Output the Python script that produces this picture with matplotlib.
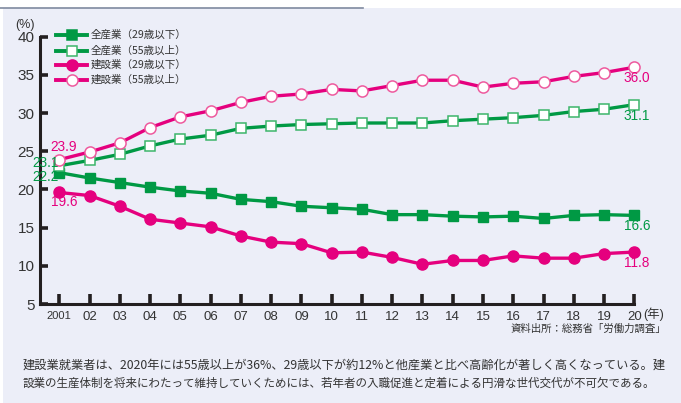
import matplotlib
matplotlib.use("Agg")
import matplotlib.pyplot as plt
from matplotlib.patches import Rectangle
from matplotlib.lines import Line2D

# ── data ─────────────────────────────────────
years = list(range(2001, 2021))
year_labels = ["2001"] + [f"{y % 100:02d}" for y in range(2002, 2021)]

all_u29 = [22.2, 21.5, 20.9, 20.3, 19.8, 19.5, 18.7, 18.4, 17.8, 17.6,
           17.4, 16.7, 16.7, 16.5, 16.4, 16.5, 16.2, 16.6, 16.7, 16.6]
all_o55 = [23.1, 23.8, 24.6, 25.7, 26.6, 27.1, 28.0, 28.3, 28.5, 28.6,
           28.7, 28.7, 28.7, 29.0, 29.2, 29.4, 29.7, 30.2, 30.5, 31.1]
con_u29 = [19.6, 19.2, 17.8, 16.1, 15.6, 15.1, 13.9, 13.1, 12.9, 11.7,
           11.8, 11.1, 10.2, 10.7, 10.7, 11.3, 11.0, 11.0, 11.6, 11.8]
con_o55 = [23.9, 24.9, 26.1, 28.1, 29.5, 30.3, 31.4, 32.2, 32.5, 33.1,
           32.9, 33.6, 34.3, 34.3, 33.4, 33.9, 34.1, 34.8, 35.3, 36.0]

legend_labels = ["全産業（29歳以下）", "全産業（55歳以上）",
                 "建設業（29歳以下）", "建設業（55歳以上）"]
yticks = [5, 10, 15, 20, 25, 30, 35, 40]

GREEN = "#009944"
GREEN_EDGE = "#3cb56a"
PINK = "#E5007E"
PINK_EDGE = "#ee5a9e"
BG = "#ECEEF8"
DARK = "#231F20"
JP = ["Noto Sans CJK JP", "DejaVu Sans"]
NUM = ["Liberation Sans", "Noto Sans CJK JP", "DejaVu Sans"]

W, H = 681, 403
fig = plt.figure(figsize=(W / 100, H / 100), dpi=100)
fig.patch.set_facecolor("white")
fig.patches.append(Rectangle((3 / W, 0), 1, 1 - 8 / H, transform=fig.transFigure,
                             facecolor=BG, edgecolor="none", zorder=-5))
fig.add_artist(Line2D([0, 363 / W], [1 - 7.5 / H] * 2, color="#7f8aa0", lw=1.2))

# axes placement (pixel coords measured from reference)
x0, x1 = 40, 634.3
y_top, y_bot = 36.7, 304
step = (x1 - 59.3) / 19
ax = fig.add_axes([x0 / W, 1 - y_bot / H, (x1 - x0) / W, (y_bot - y_top) / H])
ax.set_zorder(2)
ax.set_facecolor("none")
ax.set_xlim(2001 - (59.3 - x0) / step, 2020)
ax.set_ylim(5, 40)

for s in ["top", "right"]:
    ax.spines[s].set_visible(False)
for s in ["left", "bottom"]:
    ax.spines[s].set_linewidth(2.2)
    ax.spines[s].set_color(DARK)

ax.set_yticks(yticks)
ax.set_yticklabels([str(v) for v in yticks], family=NUM, fontsize=11, color="#333")
ax.set_xticks(years)
ax.set_xticklabels(year_labels, family=NUM, fontsize=9.5, color="#333")
ax.get_xticklabels()[0].set_fontsize(8)
ax.tick_params(axis="y", direction="in", length=6, width=2.6, color=DARK, pad=4)
ax.tick_params(axis="x", direction="in", length=7, width=2.6, color=DARK, pad=5)

# ── series ───────────────────────────────────
kw = dict(lw=2.4, clip_on=False, zorder=3)
ax.plot(years, all_u29, color=GREEN, marker="s", ms=7, mfc=GREEN, mec=GREEN, **kw)
ax.plot(years, all_o55, color=GREEN, marker="s", ms=7, mfc="white", mec=GREEN_EDGE, mew=1.1, **kw)
ax.plot(years, con_u29, color=PINK, marker="o", ms=8, mfc=PINK, mec=PINK, **kw)
ax.plot(years, con_o55, color=PINK, marker="o", ms=8, mfc="white", mec=PINK_EDGE, mew=1.1, **kw)

# ── legend (drawn by hand, like the original) ─
leg_y = [35, 50.5, 64.5, 80]
styles = [(GREEN, "s", GREEN, GREEN), (GREEN, "s", "white", GREEN_EDGE),
          (PINK, "o", PINK, PINK), (PINK, "o", "white", PINK_EDGE)]
for yy, lab, (c, m, fc, ec) in zip(leg_y, legend_labels, styles):
    fy = 1 - yy / H
    fig.add_artist(Line2D([56 / W, 87 / W], [fy, fy], color=c, lw=2.8))
    fig.add_artist(Line2D([71.5 / W], [fy], color=c, marker=m,
                          ms=8 if m == "o" else 7.5, mfc=fc, mec=ec, mew=1.1))
    fig.text(91 / W, fy, lab, family=JP, fontsize=7.6, color="#333", va="center")

# ── value labels ─────────────────────────────
def px(xp, yp, s, color, ha="left"):
    fig.text(xp / W, 1 - yp / H, s, family=NUM, fontsize=9.8, color=color,
             ha=ha, va="center")

px(50, 147, f"{con_o55[0]:.1f}", PINK)
px(32, 163, f"{all_o55[0]:.1f}", GREEN)
px(32, 177, f"{all_u29[0]:.1f}", GREEN)
px(51, 202, f"{con_u29[0]:.1f}", PINK)
px(624, 78, f"{con_o55[-1]:.1f}", PINK)
px(624, 116, f"{all_o55[-1]:.1f}", GREEN)
px(624, 226, f"{all_u29[-1]:.1f}", GREEN)
px(624, 263, f"{con_u29[-1]:.1f}", PINK)

# ── units, source, caption ───────────────────
fig.text(15 / W, 1 - 25 / H, "(%)", family=NUM, fontsize=9, color="#333", va="center")
fig.text(643 / W, 1 - 314 / H, "(年)", family=NUM, fontsize=9, color="#333", va="center")
fig.text(666 / W, 1 - 328.5 / H, "資料出所：総務省「労働力調査」", family=JP,
         fontsize=7.5, color="#333", ha="right", va="center")
fig.text(23 / W, 1 - 365 / H,
         "建設業就業者は、2020年には55歳以上が36%、29歳以下が約12%と他産業と比べ高齢化が著しく高くなっている。建",
         family=JP, fontsize=8.8, color="#333", va="center")
fig.text(23 / W, 1 - 383 / H,
         "設業の生産体制を将来にわたって維持していくためには、若年者の入職促進と定着による円滑な世代交代が不可欠である。",
         family=JP, fontsize=8.3, color="#333", va="center")

fig.savefig("out.png", dpi=100, facecolor=fig.get_facecolor())
